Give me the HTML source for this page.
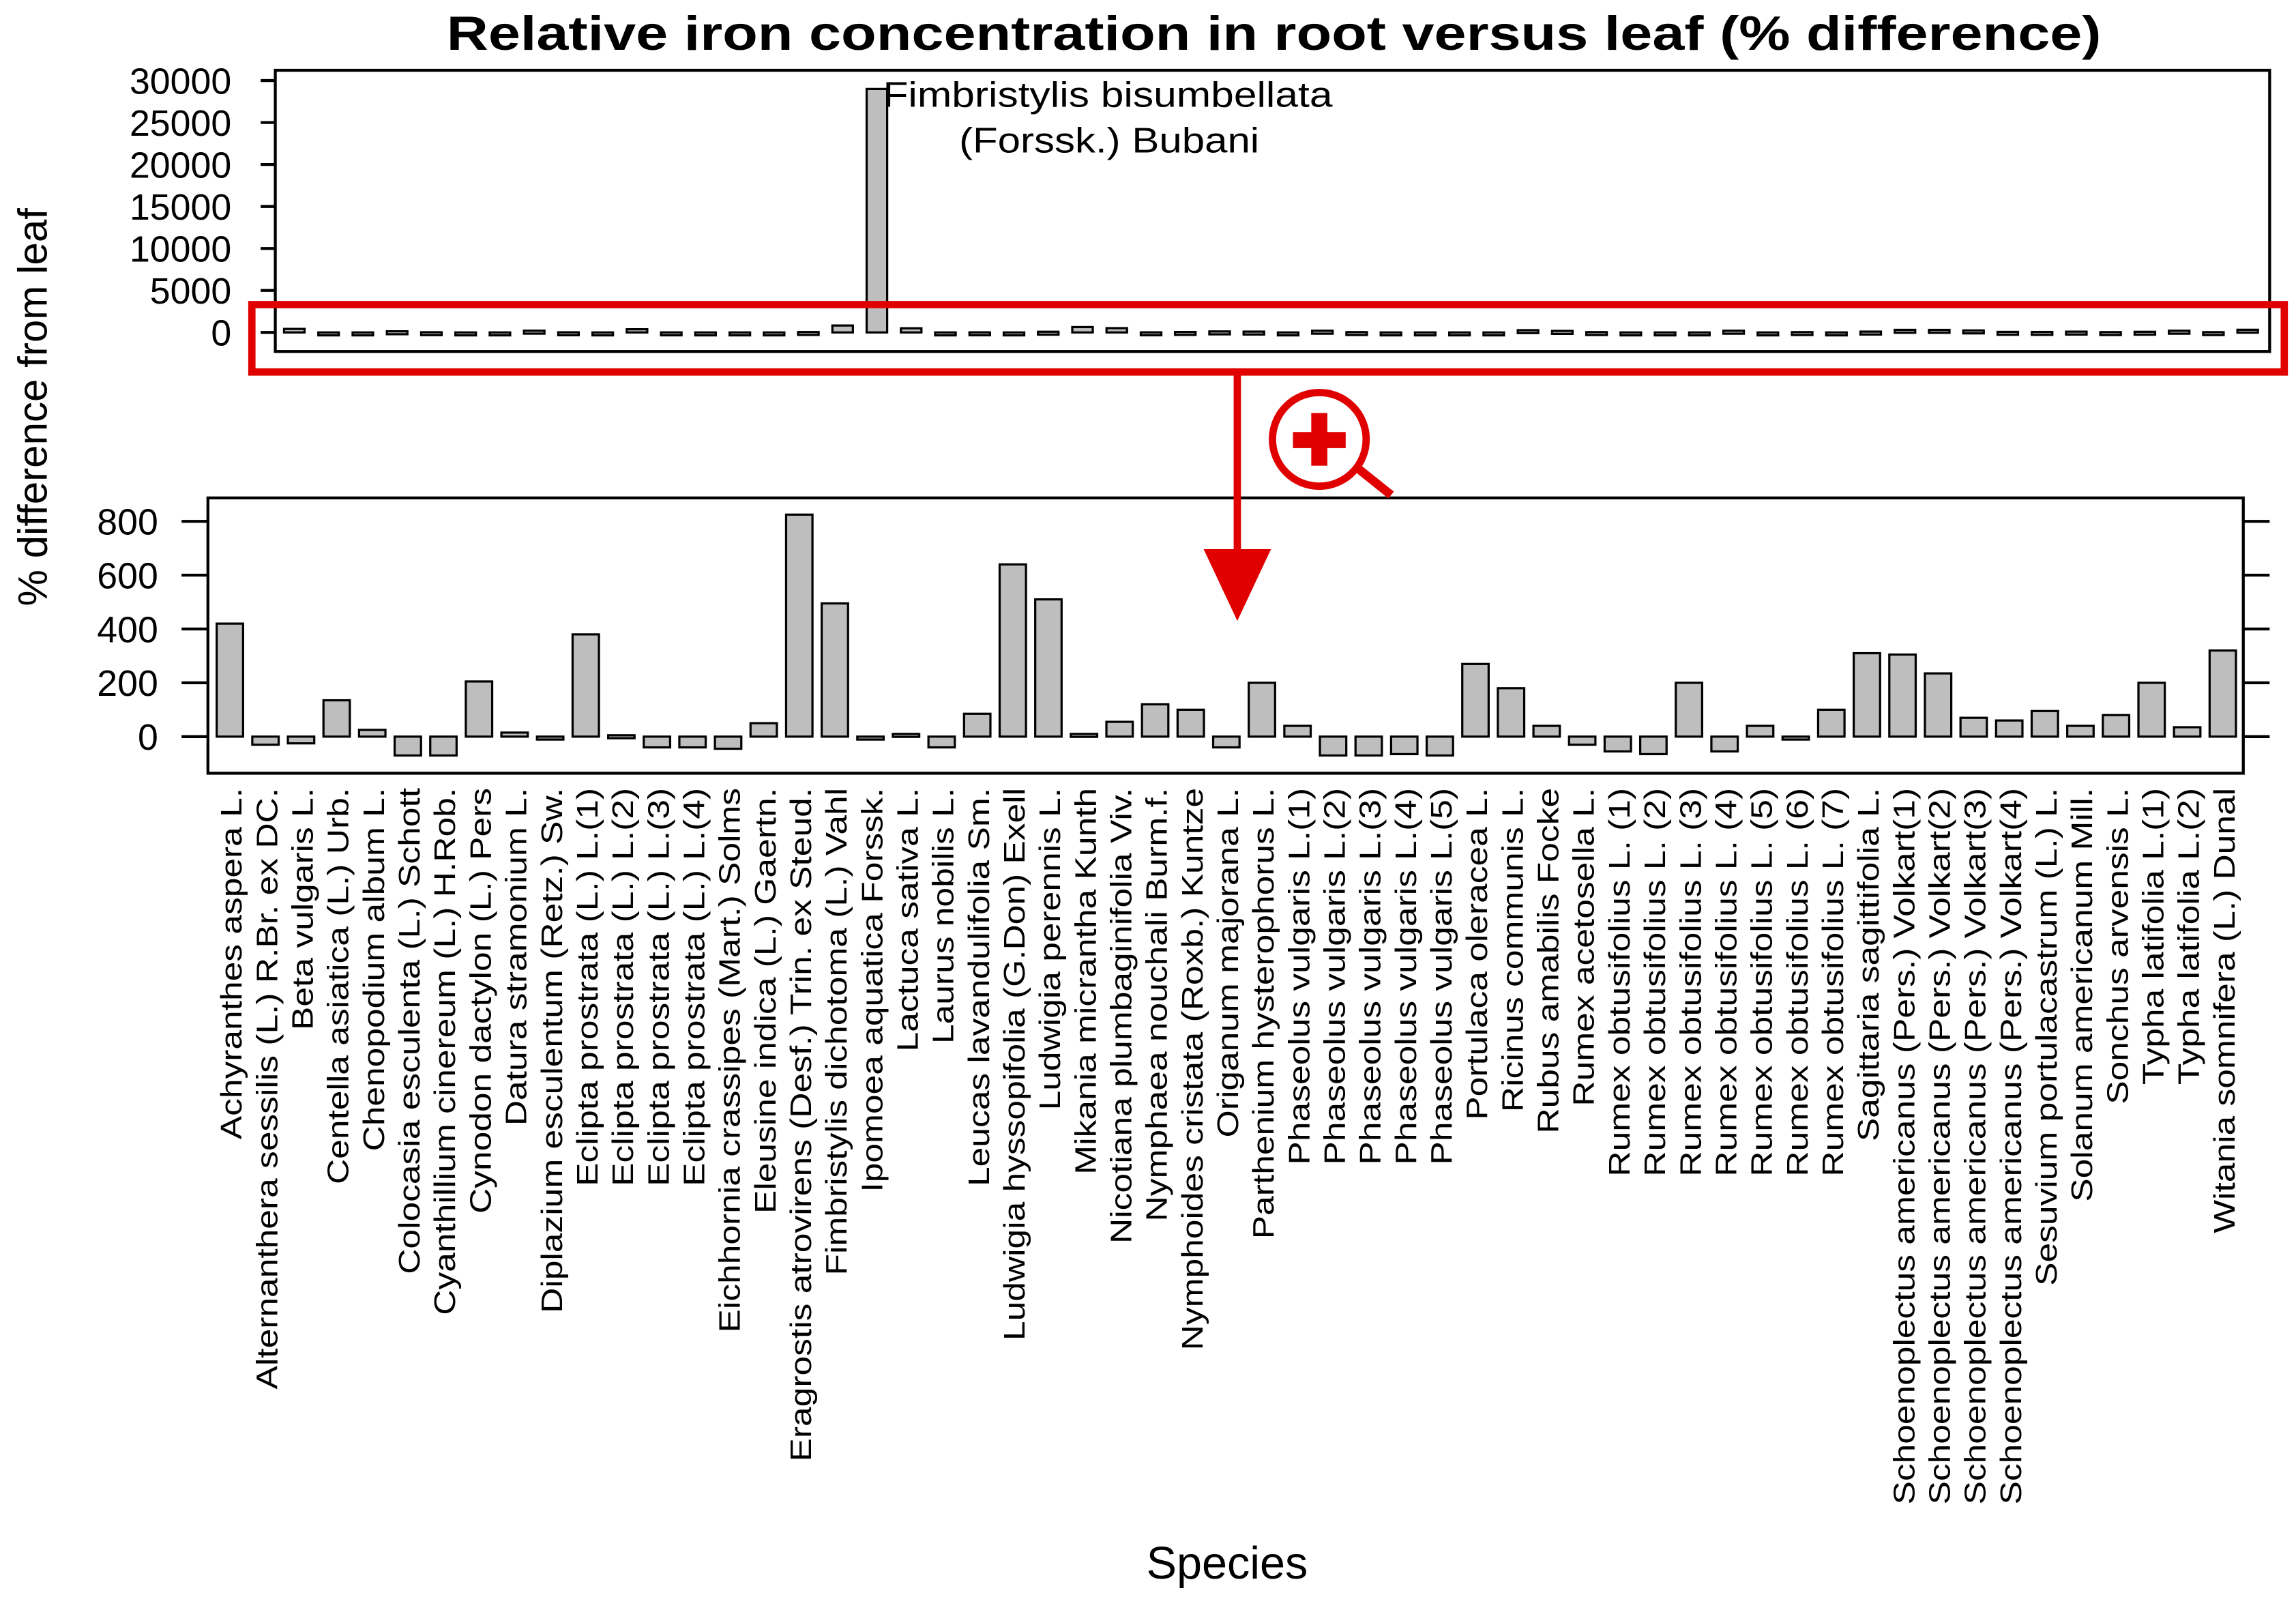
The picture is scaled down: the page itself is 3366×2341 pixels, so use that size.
<!DOCTYPE html>
<html><head><meta charset="utf-8"><style>
html,body{margin:0;padding:0;background:#fff}
svg{display:block}
text{font-family:"Liberation Sans",sans-serif;fill:#000}
</style></head><body>
<svg id="chart" width="3366" height="2341" viewBox="0 0 1568 1090.5" preserveAspectRatio="none" xmlns="http://www.w3.org/2000/svg">
<text x="305" y="34" font-size="33" font-weight="bold" textLength="1130" lengthAdjust="spacingAndGlyphs">Relative iron concentration in root versus leaf (% difference)</text>
<text transform="translate(32,278) rotate(-90)" text-anchor="middle" font-size="28">% difference from leaf</text>
<text x="838" y="1078" text-anchor="middle" font-size="31">Species</text>
<g id="top"></g><g id="bottom"></g>
<g>
<rect x="172" y="208" width="1388" height="46" fill="none" stroke="#e00000" stroke-width="5"/>
<line x1="845" y1="254" x2="845" y2="385" stroke="#e00000" stroke-width="5"/>
<polygon points="822,375 868,375 845,424" fill="#e00000"/>
<line x1="925" y1="318" x2="950" y2="338" stroke="#e00000" stroke-width="6"/>
<circle cx="901" cy="300" r="32" fill="#fff" stroke="#e00000" stroke-width="5"/>
<rect x="883" y="295" width="36" height="11" fill="#e00000"/>
<rect x="895.5" y="282" width="11" height="36" fill="#e00000"/>
</g>
</svg>
<script>
const ns="http://www.w3.org/2000/svg";
const categories=["Achyranthes aspera L.","Alternanthera sessilis (L.) R.Br. ex DC.","Beta vulgaris L.","Centella asiatica (L.) Urb.","Chenopodium album L.","Colocasia esculenta (L.) Schott","Cyanthillium cinereum (L.) H.Rob.","Cynodon dactylon (L.) Pers","Datura stramonium L.","Diplazium esculentum (Retz.) Sw.","Eclipta prostrata (L.) L.(1)","Eclipta prostrata (L.) L.(2)","Eclipta prostrata (L.) L.(3)","Eclipta prostrata (L.) L.(4)","Eichhornia crassipes (Mart.) Solms","Eleusine indica (L.) Gaertn.","Eragrostis atrovirens (Desf.) Trin. ex Steud.","Fimbristylis dichotoma (L.) Vahl","Ipomoea aquatica Forssk.","Lactuca sativa L.","Laurus nobilis L.","Leucas lavandulifolia Sm.","Ludwigia hyssopifolia (G.Don) Exell","Ludwigia perennis L.","Mikania micrantha Kunth","Nicotiana plumbaginifolia Viv.","Nymphaea nouchali Burm.f.","Nymphoides cristata (Roxb.) Kuntze","Origanum majorana L.","Parthenium hysterophorus L.","Phaseolus vulgaris L.(1)","Phaseolus vulgaris L.(2)","Phaseolus vulgaris L.(3)","Phaseolus vulgaris L.(4)","Phaseolus vulgaris L.(5)","Portulaca oleracea L.","Ricinus communis L.","Rubus amabilis Focke","Rumex acetosella L.","Rumex obtusifolius L. (1)","Rumex obtusifolius L. (2)","Rumex obtusifolius L. (3)","Rumex obtusifolius L. (4)","Rumex obtusifolius L. (5)","Rumex obtusifolius L. (6)","Rumex obtusifolius L. (7)","Sagittaria sagittifolia L.","Schoenoplectus americanus (Pers.) Volkart(1)","Schoenoplectus americanus (Pers.) Volkart(2)","Schoenoplectus americanus (Pers.) Volkart(3)","Schoenoplectus americanus (Pers.) Volkart(4)","Sesuvium portulacastrum (L.) L.","Solanum americanum Mill.","Sonchus arvensis L.","Typha latifolia L.(1)","Typha latifolia L.(2)","Witania somnifera (L.) Dunal"];
const values=[420,-30,-25,135,25,-70,-70,205,15,-5,380,5,-40,-40,-45,50,825,495,-5,10,-40,85,640,510,10,55,120,100,-40,200,40,-70,-70,-65,-70,270,180,40,-30,-55,-65,200,-55,40,0,100,310,305,235,70,60,95,40,80,200,35,320];
const outlierValue=29000;
const outlierIndex=17;
const outlierLabel1="Fimbristylis bisumbellata";
const outlierLabel2="(Forssk.) Bubani";
const topTicks=[0,5000,10000,15000,20000,25000,30000];
const bottomTicks=[0,200,400,600,800];

function mk(parent,tag,attrs){const e=document.createElementNS(ns,tag);for(const k in attrs)e.setAttribute(k,attrs[k]);parent.appendChild(e);return e;}

const topVals=values.slice(0,outlierIndex).concat([outlierValue],values.slice(outlierIndex));
const T=document.getElementById('top');
const tY=v=>227-(v/30000)*172;
const tX=i=>201+i*(1535-201)/(topVals.length-1);
const tbox=mk(T,'rect',{x:188,y:48,width:1362,height:192,fill:'none',stroke:'#000','stroke-width':2});


topTicks.forEach(t=>{
 const l=mk(T,'line',{x1:178,x2:188,y1:tY(t),y2:tY(t),stroke:'#000','stroke-width':2});
 
 
 const tx=mk(T,'text',{x:158,y:tY(t)+9,'text-anchor':'end','font-size':25});
 tx.textContent=t;
 
 
});
topVals.forEach((v,i)=>{
 const y0=tY(0),y1=tY(v);
 const r=mk(T,'rect',{x:tX(i)-7,y:Math.min(y0,y1),width:14,height:Math.max(Math.abs(y0-y1),2),fill:'#bebebe',stroke:'#000','stroke-width':1.5});
 
 
});
const a1=mk(T,'text',{x:603,y:73,'font-size':24,textLength:307,lengthAdjust:'spacingAndGlyphs'});a1.textContent=outlierLabel1;


const a2=mk(T,'text',{x:655,y:104,'font-size':24,textLength:205,lengthAdjust:'spacingAndGlyphs'});a2.textContent=outlierLabel2;



const B=document.getElementById('bottom');
const bY=v=>503-(v/800)*147;
const bX=i=>157+i*(1518-157)/(categories.length-1);
const bbox=mk(B,'rect',{x:142,y:340,width:1390,height:188,fill:'none',stroke:'#000','stroke-width':2});


bottomTicks.forEach(t=>{
 const l=mk(B,'line',{x1:124,x2:142,y1:bY(t),y2:bY(t),stroke:'#000','stroke-width':2});
 
 
 const r=mk(B,'line',{x1:1532,x2:1550,y1:bY(t),y2:bY(t),stroke:'#000','stroke-width':2});
 
 
 const tx=mk(B,'text',{x:108,y:bY(t)+9,'text-anchor':'end','font-size':25});
 tx.textContent=t;
 
 
});
values.forEach((v,i)=>{
 const y0=bY(0),y1=bY(v);
 const r=mk(B,'rect',{x:bX(i)-9,y:Math.min(y0,y1),width:18,height:Math.max(Math.abs(y0-y1),2),fill:'#bebebe',stroke:'#000','stroke-width':1.5});
 
 
 const t=mk(B,'text',{transform:`translate(${bX(i)+8},538) rotate(-90) scale(1,0.85)`,'text-anchor':'end','font-size':24});
 t.textContent=categories[i];
 
 
});
</script>
</body></html>
